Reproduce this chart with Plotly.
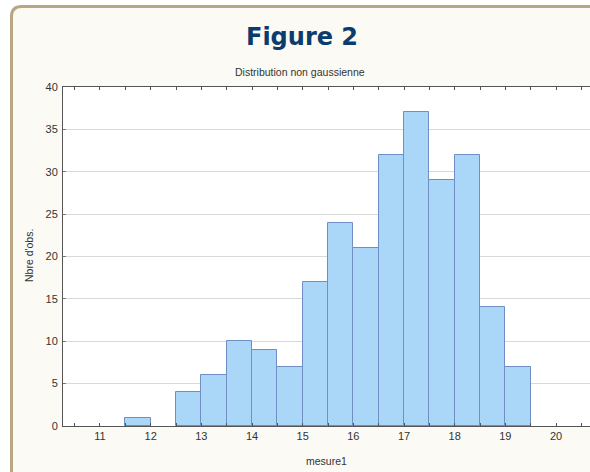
import plotly.graph_objects as go

# Data: histogram bins (left edges, width 0.5) and counts
bin_left = [11.5, 12.5, 13.0, 13.5, 14.0, 14.5, 15.0, 15.5, 16.0, 16.5, 17.0, 17.5, 18.0, 18.5, 19.0]
counts = [1, 4, 6, 10, 9, 7, 17, 24, 21, 32, 37, 29, 32, 14, 7]
bin_width = 0.5
x_tick_vals = [10.5 + 0.5 * i for i in range(21)]
x_tick_text = [str(int(v)) if v == int(v) else "" for v in x_tick_vals]
y_ticks = [0, 5, 10, 15, 20, 25, 30, 35, 40]

W, H = 590, 472
L, R, T, B = 63, 0, 87, 46
pw, ph = W - L - R, H - T - B

def px(x):
    return (x - L) / pw

def py(y):
    return (H - B - y) / ph

centers = [b + bin_width / 2 for b in bin_left]

fig = go.Figure()
fig.add_trace(go.Bar(
    x=centers, y=counts, width=bin_width,
    marker=dict(color="#aad6f7", line=dict(color="#6f8fc4", width=1)),
    hoverinfo="x+y",
))

# outer frame with rounded top-left corner
x0, y0, x1, y1, r = 11.5, 6.5, 620, 500, 10
path = (f"M {px(x0)},{py(y0 + r)} "
        f"Q {px(x0)},{py(y0)} {px(x0 + r)},{py(y0)} "
        f"L {px(x1)},{py(y0)} L {px(x1)},{py(y1)} L {px(x0)},{py(y1)} Z")
fig.add_shape(type="path", path=path, xref="paper", yref="paper",
              fillcolor="#fcfaf4", line=dict(color="#b9a784", width=3), layer="below")
# white plotting area on top of the frame fill
fig.add_shape(type="rect", xref="paper", yref="paper", x0=0, x1=1.02, y0=0, y1=1,
              fillcolor="#ffffff", line=dict(width=0), layer="below")

fig.add_annotation(text="<b>Figure 2</b>", xref="paper", yref="paper",
                   x=px(302), y=py(37), showarrow=False, xanchor="center", yanchor="middle",
                   font=dict(family="DejaVu Sans, sans-serif", size=24, color="#0b3c6e"))
fig.add_annotation(text="Distribution non gaussienne", xref="paper", yref="paper",
                   x=px(300), y=py(72), showarrow=False, xanchor="center", yanchor="middle",
                   font=dict(family="Arial, Liberation Sans, sans-serif", size=10.5, color="#333333"))
fig.add_annotation(text="Nbre d'obs.", xref="paper", yref="paper",
                   x=px(29), y=py(256), showarrow=False, xanchor="center", yanchor="middle",
                   textangle=-90,
                   font=dict(family="Arial, Liberation Sans, sans-serif", size=10.5, color="#333333"))
fig.add_annotation(text="mesure1", xref="paper", yref="paper",
                   x=px(326), y=py(461), showarrow=False, xanchor="center", yanchor="middle",
                   font=dict(family="Arial, Liberation Sans, sans-serif", size=10.5, color="#333333"))

fig.update_layout(
    width=W, height=H,
    margin=dict(l=L, r=R, t=T, b=B),
    paper_bgcolor="#ffffff",
    plot_bgcolor="rgba(0,0,0,0)",
    showlegend=False,
    bargap=0,
    font=dict(family="Arial, Liberation Sans, sans-serif", size=11, color="#333333"),
)
fig.update_xaxes(
    range=[10.27, 20.67],
    tickmode="array", tickvals=x_tick_vals, ticktext=x_tick_text,
    ticks="inside", ticklen=3, tickcolor="#555555", mirror="ticks",
    showline=True, linecolor="#555555", linewidth=1,
    showgrid=False, zeroline=False,
    tickfont=dict(size=11, color="#333333"),
)
fig.update_yaxes(
    range=[0, 40],
    tickmode="array", tickvals=y_ticks,
    ticks="inside", ticklen=3, tickcolor="#777777", ticklabelstandoff=2,
    showline=True, linecolor="#555555", linewidth=1,
    showgrid=True, gridcolor="#d9d9d9", gridwidth=1,
    zeroline=False,
    tickfont=dict(size=11, color="#333333"),
)

fig.write_html("out.html", config={"displayModeBar": False},
               post_script="document.body.style.margin='0px';document.body.style.overflow='hidden';")
